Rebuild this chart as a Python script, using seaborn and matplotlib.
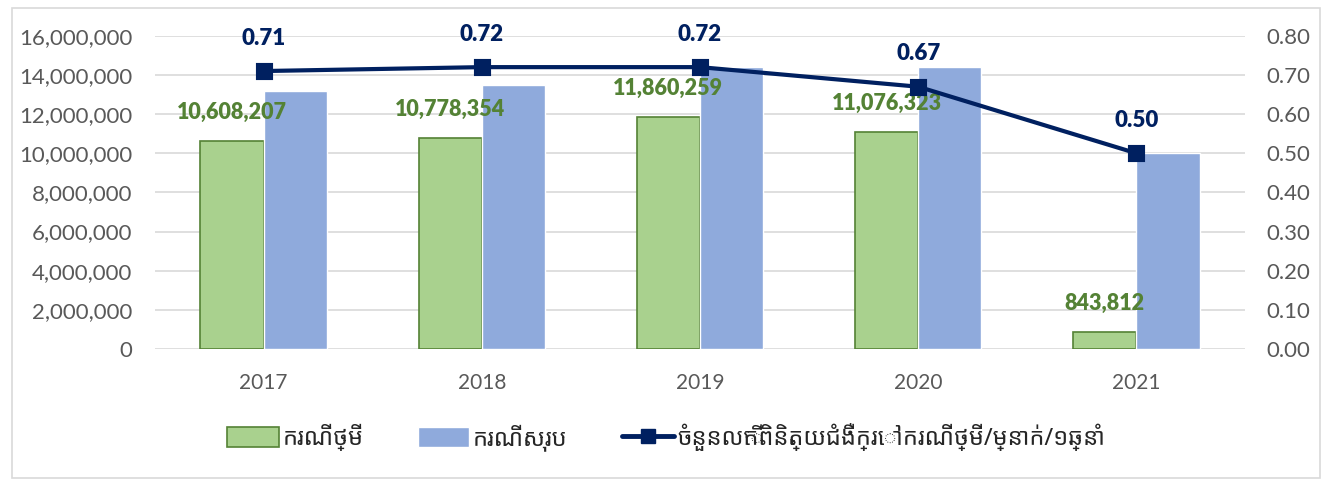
import pandas as pd
import seaborn as sns
import matplotlib.pyplot as plt
from matplotlib.patches import Patch, Rectangle
from matplotlib.lines import Line2D
from matplotlib.ticker import FuncFormatter

# data
years = ['2017', '2018', '2019', '2020', '2021']
new_cases = [10608207, 10778354, 11860259, 11076323, 843812]
total_cases = [13180000, 13500000, 14420000, 14420000, 10020000]
visits_per_person = [0.71, 0.72, 0.72, 0.67, 0.50]

label_new = 'ករណីថ្មី'
label_total = 'ករណីសរុប'
label_ratio = 'ចំនួនលើកពិនិត្យជំងឺក្រៅករណីថ្មី/ម្នាក់/១ឆ្នាំ'

green = '#A9D18E'
green_edge = '#548235'
blue = '#8FAADC'
navy = '#002060'
grey = '#595959'

sns.set_style('white')
plt.rcParams['font.family'] = ['Lato', 'Noto Sans Khmer', 'DejaVu Sans']

df = pd.DataFrame({
    'year': years * 2,
    'value': new_cases + total_cases,
    'series': [label_new] * len(years) + [label_total] * len(years),
})

fig = plt.figure(figsize=(13.32, 4.84), dpi=100)
ax = fig.add_axes([0.116, 0.279, 0.819, 0.647])

sns.barplot(data=df, x='year', y='value', hue='series', width=0.58,
            palette=[green, blue], ax=ax, legend=False, saturation=1)
# outline on the green bars only
for bar in ax.patches[:len(years)]:
    bar.set_edgecolor(green_edge)
    bar.set_linewidth(1.2)

ax.set_ylim(0, 16000000)
ax.set_yticks(range(0, 16000001, 2000000))
ax.yaxis.set_major_formatter(FuncFormatter(lambda v, p: f'{int(v):,}'))
ax.set_xlim(-0.5, len(years) - 0.5)
ax.set_xlabel('')
ax.set_ylabel('')
ax.grid(axis='y', color='#D9D9D9', linewidth=1.2)
ax.set_axisbelow(True)
ax.tick_params(axis='y', labelsize=16, colors=grey, length=0, pad=16)
ax.tick_params(axis='x', labelsize=15, colors=grey, length=0, pad=17)
sns.despine(ax=ax, left=True, bottom=True)

# labels on the green bars
for bar, v in zip(ax.patches[:len(years)], new_cases):
    ax.annotate(f'{v:,}', (bar.get_x() + bar.get_width() / 2, v),
                xytext=(0, 13), textcoords='offset points', ha='center',
                va='bottom', color=green_edge, fontsize=15.5, fontweight='heavy')

ax2 = ax.twinx()
sns.pointplot(x=years, y=visits_per_person, ax=ax2, color=navy, markers='s',
              markersize=10, linewidth=3)
ax2.set_ylim(0, 0.8)
ax2.set_yticks([i / 10 for i in range(9)])
ax2.yaxis.set_major_formatter(FuncFormatter(lambda v, p: f'{v:.2f}'))
ax2.tick_params(axis='y', labelsize=16, colors=grey, length=0, pad=15)
ax2.set_xlim(-0.5, len(years) - 0.5)
sns.despine(ax=ax2, left=True, bottom=True, right=True)

for i, v in enumerate(visits_per_person):
    ax2.annotate(f'{v:.2f}', (i, v), xytext=(0, 16), textcoords='offset points',
                 ha='center', va='bottom', color=navy, fontsize=16,
                 fontweight='heavy')

handles = [
    Patch(facecolor=green, edgecolor=green_edge, linewidth=1.2, label=label_new),
    Patch(facecolor=blue, label=label_total),
    Line2D([], [], color=navy, linewidth=3.5, marker='s', markersize=10,
           label=label_ratio),
]
fig.legend(handles=handles, loc='center', bbox_to_anchor=(0.5, 0.097), ncol=3,
           frameon=False, handlelength=2.2, handleheight=0.9, columnspacing=2.3,
           handletextpad=0.15,
           prop={'family': ['Noto Sans Khmer', 'DejaVu Sans'], 'size': 17})

fig.patches.append(Rectangle((0.009, 0.012), 0.982, 0.972, transform=fig.transFigure,
                             fill=False, edgecolor='#D9D9D9', linewidth=1.2))

fig.savefig('out.png', dpi=100)
